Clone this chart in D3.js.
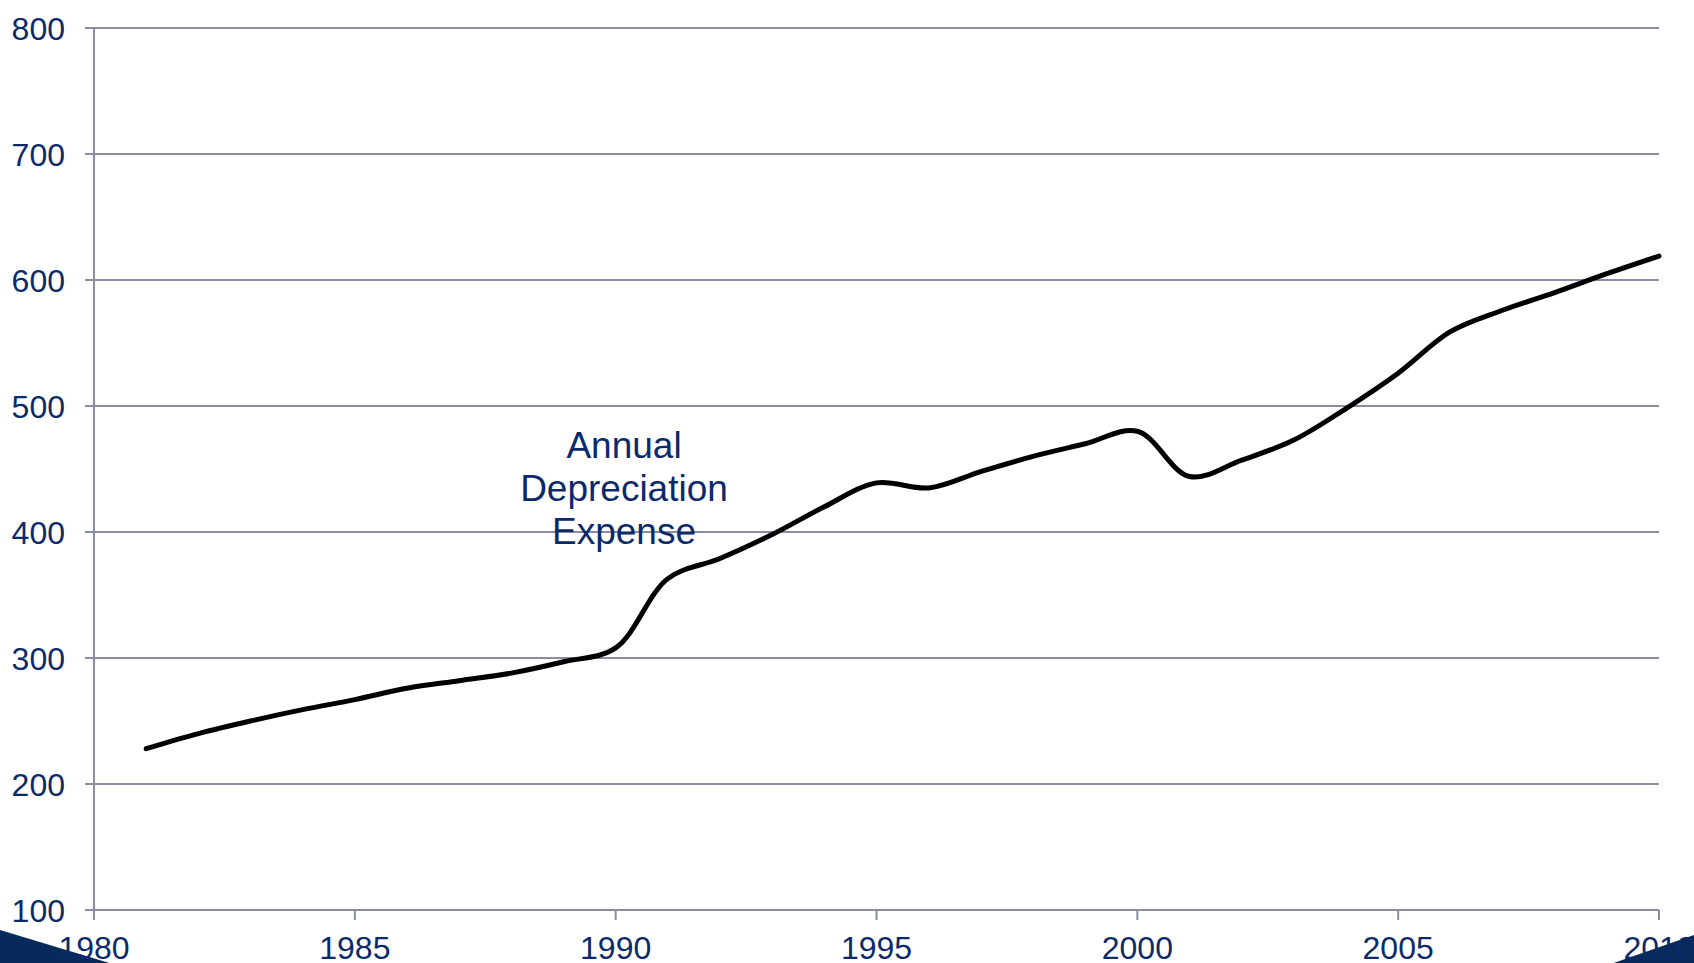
<!DOCTYPE html>
<html>
<head>
<meta charset="utf-8">
<title>Annual Depreciation Expense</title>
<script src="https://cdn.jsdelivr.net/npm/d3@7"></script>
<style>
  html, body { margin: 0; padding: 0; background: #fff; overflow: hidden; }
  svg text { font-family: "Liberation Sans", Arial, sans-serif; fill: #0c2a6a; }
</style>
</head>
<body>
<div id="chart"></div>
<script>
// values
var years = [1981, 1982, 1983, 1984, 1985, 1986, 1987, 1988, 1989, 1990,
             1991, 1992, 1993, 1994, 1995, 1996, 1997, 1998, 1999, 2000,
             2001, 2002, 2003, 2004, 2005, 2006, 2007, 2008, 2009, 2010];
var depreciation = [228, 240, 250, 259, 267, 276, 282, 288, 297, 308,
                    363, 379, 398, 420, 439, 435, 448, 460, 470, 480,
                    444, 457, 473, 498, 526, 559, 576, 590, 605, 619];
var yTicks = [100, 200, 300, 400, 500, 600, 700, 800];
var xTicks = [1980, 1985, 1990, 1995, 2000, 2005, 2010];
var labelLines = ["Annual", "Depreciation", "Expense"];

var width = 1694;
var height = 963;
var gridColor = "#8a8ca1";
var navy = "#062a5a";

var svg = d3.select("#chart")
  .append("svg")
    .attr("width", width)
    .attr("height", height);

var x = d3.scaleLinear().domain([1980, 2010]).range([94, 1659]);
var y = d3.scaleLinear().domain([100, 800]).range([910, 28]);

// horizontal gridlines
svg.append("g")
  .selectAll("line")
  .data(yTicks)
  .enter()
  .append("line")
    .attr("x1", 85)
    .attr("x2", x(2010))
    .attr("y1", function(d) { return y(d); })
    .attr("y2", function(d) { return y(d); })
    .attr("stroke", gridColor)
    .attr("stroke-width", 2);

// vertical axis line
svg.append("line")
  .attr("x1", x(1980)).attr("x2", x(1980))
  .attr("y1", y(800)).attr("y2", y(100))
  .attr("stroke", gridColor)
  .attr("stroke-width", 2);

// x ticks
svg.append("g")
  .selectAll("line")
  .data(xTicks)
  .enter()
  .append("line")
    .attr("x1", function(d) { return x(d); })
    .attr("x2", function(d) { return x(d); })
    .attr("y1", y(100))
    .attr("y2", y(100) + 10)
    .attr("stroke", gridColor)
    .attr("stroke-width", 2);

// decorative corner shapes from the slide
svg.append("polygon")
  .attr("points", "0,930 116,965 0,965")
  .attr("fill", navy);
svg.append("polygon")
  .attr("points", "1608,965 1694,935 1694,965")
  .attr("fill", navy);

// y labels
svg.append("g")
  .style("text-anchor", "end")
  .selectAll("text")
  .data(yTicks)
  .enter()
  .append("text")
    .attr("x", 65)
    .attr("y", function(d) { return y(d); })
    .attr("dy", "0.36em")
    .style("font-size", "32px")
    .text(function(d) { return d; });

// x labels
svg.append("g")
  .style("text-anchor", "middle")
  .selectAll("text")
  .data(xTicks)
  .enter()
  .append("text")
    .attr("x", function(d) { return x(d); })
    .attr("y", 959)
    .style("font-size", "32px")
    .text(function(d) { return d; });

// the series
var line = d3.line()
  .x(function(d, i) { return x(years[i]); })
  .y(function(d) { return y(d); })
  .curve(d3.curveCatmullRom.alpha(0.5));

svg.append("path")
  .datum(depreciation)
  .attr("d", line)
  .attr("fill", "none")
  .attr("stroke", "#000")
  .attr("stroke-width", 5)
  .attr("stroke-linecap", "round")
  .attr("stroke-linejoin", "round");

// annotation
var note = svg.append("text")
  .style("text-anchor", "middle")
  .style("font-size", "37px");

note.selectAll("tspan")
  .data(labelLines)
  .enter()
  .append("tspan")
    .attr("x", 624)
    .attr("y", function(d, i) { return 458 + i * 43; })
    .text(function(d) { return d; });
</script>
</body>
</html>
